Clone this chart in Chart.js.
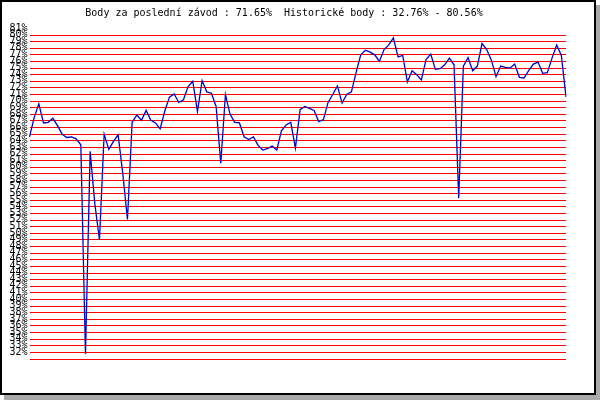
<!DOCTYPE html>
<html>
<head>
<meta charset="utf-8">
<title>Body</title>
<script src="https://cdn.jsdelivr.net/npm/chart.js"></script>
<style>
    html, body { margin: 0; padding: 0; background: #fff; }
    .frame {
        position: absolute;
        left: 0;
        top: 0;
        width: 596px;
        height: 395px;
        box-sizing: border-box;
        border: 2px solid #000;
        background: #fff;
        box-shadow: 4px 5px 0 0 #a9a9a9;
    }
    .chart-box { position: relative; width: 592px; height: 391px; }
</style>
</head>
<body>
<div class="frame">
    <div class="chart-box"><canvas id="bodyChart"></canvas></div>
</div>
<script>
// Body per race, oldest first
const titleText = 'Body za poslední závod : 71.65%  Historické body : 32.76% - 80.56%';

const points = [
    65.6, 68.5, 70.6, 67.7, 67.8, 68.4, 67.3, 66.0, 65.5, 65.6,
    65.3, 64.4, 32.76, 63.4, 55.5, 50.0, 66.0, 63.7, 64.9, 65.9,
    60.0, 53.1, 67.8, 68.9, 68.1, 69.6, 68.1, 67.7, 66.8, 69.5,
    71.6, 72.1, 70.8, 71.2, 73.2, 74.0, 69.4, 74.1, 72.4, 72.2,
    70.2, 61.6, 72.0, 69.0, 67.8, 67.7, 65.6, 65.2, 65.6, 64.3,
    63.6, 63.8, 64.2, 63.6, 66.5, 67.4, 67.8, 63.9, 69.7, 70.2,
    69.9, 69.6, 67.9, 68.2, 70.8, 72.0, 73.3, 70.7, 72.0, 72.4,
    75.3, 78.0, 78.7, 78.4, 78.0, 77.0, 78.8, 79.5, 80.56, 77.7,
    77.9, 73.9, 75.6, 75.0, 74.2, 77.3, 78.1, 75.8, 75.9, 76.5,
    77.5, 76.5, 56.3, 76.3, 77.6, 75.6, 76.3, 79.7, 78.8, 77.2,
    74.7, 76.3, 76.1, 76.0, 76.6, 74.6, 74.5, 75.6, 76.6, 76.9,
    75.2, 75.3, 77.5, 79.5, 77.9, 71.65
];

// race numbers on the (hidden) x axis
const races = points.map((p, i) => String(i + 1));

// y axis goes 32% .. 81% in steps of 1
const yMin = 32;
const yMax = 81;
const yStep = 1;

const mono = 'DejaVu Sans Mono';

new Chart(document.getElementById('bodyChart'), {
    type: 'line',
    data: {
        labels: races,
        datasets: [{
            data: points,
            borderColor: '#0000cc',
            borderWidth: 1.3,
            pointRadius: 0,
            tension: 0,
            fill: false
        }]
    },
    options: {
        responsive: true,
        maintainAspectRatio: false,
        animation: false,
        layout: { padding: { left: 0, right: 28, top: 0, bottom: 34 } },
        plugins: {
            legend: { display: false },
            tooltip: { enabled: false },
            title: {
                display: true,
                text: titleText,
                color: '#000',
                font: { family: mono, size: 10, weight: 'normal' },
                padding: { top: 5.5, bottom: 15.5 }
            }
        },
        scales: {
            x: { display: false },
            y: {
                min: yMin,
                max: yMax,
                border: { display: false },
                grid: { color: '#ff0000', lineWidth: 1, drawTicks: false },
                ticks: {
                    stepSize: yStep,
                    autoSkip: false,
                    color: '#000',
                    padding: 2,
                    labelOffset: -7,
                    font: { family: mono, size: 10 },
                    callback: (v) => v + '%'
                },
                afterFit: (scale) => { scale.width = 27.5; }
            }
        }
    }
});
</script>
</body>
</html>
